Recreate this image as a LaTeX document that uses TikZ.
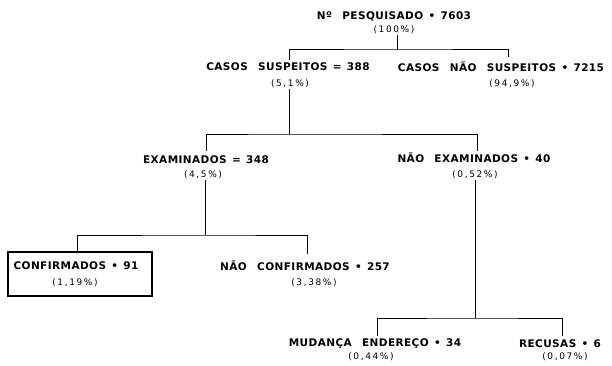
\documentclass[tikz,border=0pt]{standalone}
\usepackage{fontspec}
\setmainfont{DejaVu Sans}
\newfontfamily\hdfont[LetterSpace=4,WordSpace=1.3]{DejaVu Sans}
\newfontfamily\pcfont[LetterSpace=18]{DejaVu Sans}
\newcommand\wgap{\hspace{5pt}}
\begin{document}
\begin{tikzpicture}[x=1pt,y=-1pt,
  hd/.style={font=\hdfont\bfseries\fontsize{10.5}{12}\selectfont, inner sep=1pt, anchor=center},
  pc/.style={font=\pcfont\fontsize{9}{10}\selectfont, inner sep=1pt, anchor=center},
  conn/.style={draw=black, line width=0.8pt},
  boxst/.style={draw=black, line width=1.3pt, minimum width=144pt, minimum height=44pt, inner sep=0pt}
]
\useasboundingbox (0,0) rectangle (612,366);
% level 0
\node[hd] (t0) at (394,16) {Nº\wgap{} PESQUISADO • 7603};
\node[pc] (p0) at (394,30) {(100\%)};
% level 1
\node[hd] (cs) at (288,67) {CASOS\wgap{} SUSPEITOS = 388};
\node[pc] (csp) at (290,84) {(5,1\%)};
\node[hd] (cns) at (501,67) {CASOS\wgap{} NÃO\wgap{} SUSPEITOS • 7215};
\node[pc] (cnsp) at (512,84) {(94,9\%)};
% level 2
\node[hd] (ex) at (206,160) {EXAMINADOS = 348};
\node[pc] (exp) at (203,175) {(4,5\%)};
\node[hd] (nex) at (474,158) {NÃO\wgap{} EXAMINADOS • 40};
\node[pc] (nexp) at (475,175) {(0,52\%)};
% level 3
\node[boxst] (cfbox) at (80,274) {};
\node[hd] (cf) at (76,266) {CONFIRMADOS • 91};
\node[pc] (cfp) at (75,283) {(1,19\%)};
\node[hd] (ncf) at (305,266) {NÃO\wgap{} CONFIRMADOS • 257};
\node[pc] (ncfp) at (314,283) {(3,38\%)};
% level 4
\node[hd] (mud) at (375,344) {MUDANÇA\wgap{} ENDEREÇO • 34};
\node[pc] (mudp) at (371,357) {(0,44\%)};
\node[hd] (rec) at (560,344) {RECUSAS • 6};
\node[pc] (recp) at (565,357) {(0,07\%)};
% junctions
\coordinate (j1) at (397,49);
\coordinate (j2) at (289,134);
\coordinate (j3) at (205,235);
\coordinate (j4) at (475,318);
\coordinate (l1a) at (289,60);
\coordinate (l1b) at (508,57);
\coordinate (l2a) at (206,151);
\coordinate (l2b) at (477,151);
\coordinate (l3a) at (77,252);
\coordinate (l3b) at (307,254);
\coordinate (l4a) at (377,336);
\coordinate (l4b) at (562,336);
% connectors
\draw[conn] (j1 |- p0.south) -- (j1);
\draw[conn] (l1a) |- (j1) -| (l1b);
\draw[conn] (j2 |- csp.south) -- (j2);
\draw[conn] (l2a) |- (j2) -| (l2b);
\draw[conn] (j3 |- exp.south) -- (j3);
\draw[conn] (l3a) |- (j3) -| (l3b);
\draw[conn] (j4 |- nexp.south) -- (j4);
\draw[conn] (l4a) |- (j4) -| (l4b);
\end{tikzpicture}
\end{document}
